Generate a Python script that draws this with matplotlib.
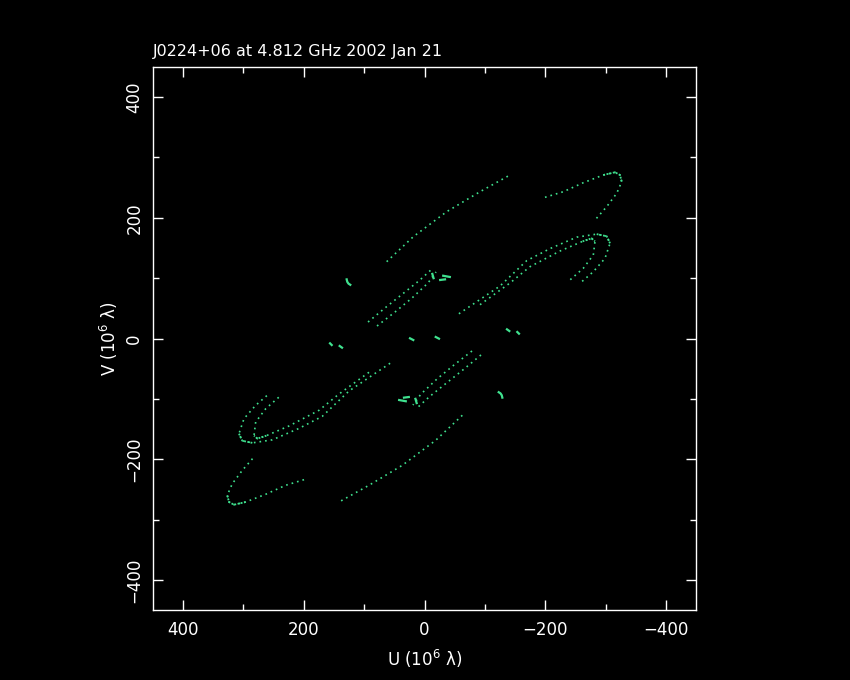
import numpy as np
import matplotlib
matplotlib.use('Agg')
import matplotlib.pyplot as plt
from matplotlib.ticker import MultipleLocator

# uv tracks (upper half); the conjugate (-u, -v) is drawn too
# units: 10^6 wavelengths
track_a_u = [-199.7, -230.1, -263.2, -296.4, -315.8, -324.0, -326.9, -318.6, -302.0, -282.6]
track_a_v = [234.0, 243.3, 258.2, 271.0, 275.5, 271.0, 259.9, 240.7, 218.5, 196.4]

track_b_u = [62.7, 18.6, -36.8, -92.0, -141.7]
track_b_v = [127.3, 168.7, 210.2, 243.3, 271.0]

track_c1_u = [-57.0, -125.1, -169.4, -208.0, -252.3, -285.4, -302.0, -307.5, -299.2, -279.8, -260.6]
track_c1_v = [41.0, 87.0, 129.0, 149.0, 168.0, 173.0, 169.5, 157.8, 132.9, 110.7, 94.1]

track_c2_u = [-92.0, -141.7, -174.8, -224.6, -262.0, -277.0, -282.6, -279.8, -263.2, -241.1]
track_c2_v = [56.0, 92.0, 119.0, 145.0, 161.0, 166.0, 161.0, 138.4, 116.4, 97.0]

track_d1_u = [93.6, 65.5, 32.3, 7.5, -14.1]
track_d1_v = [27.3, 50.6, 77.1, 97.0, 116.8]

track_d2_u = [78.7, 48.9, 20.7, -5.8, -19.1]
track_d2_v = [20.7, 43.9, 67.1, 92.0, 110.3]

# slow, densely sampled parts near the track tips
tip_a = slice(3, 7)
tip_c1 = slice(5, 8)
tip_c2 = slice(4, 7)

# short baselines
short_u = [[129, 128, 126, 123], [-13, -15], [-26, -34], [-31, -42], [156.6, 153.8], [140.6, 136.7], [24.0, 18.6]]
short_v = [[98, 94, 91, 89], [107, 100], [97, 98], [104, 102], [-8.0, -10.8], [-12.4, -15.2], [0.3, -2.5]]

title = 'J0224+06 at 4.812 GHz 2002 Jan 21'
ticks = [-400, -200, 0, 200, 400]

col = '#3fe28f'

fig = plt.figure(figsize=(8.5, 6.8), dpi=100, facecolor='black')
ax = fig.add_axes([153/850, 1 - 610/680, 543/850, 543/680])
ax.set_facecolor('black')

long_tracks = [(track_a_u, track_a_v), (track_b_u, track_b_v),
               (track_c1_u, track_c1_v), (track_c2_u, track_c2_v),
               (track_d1_u, track_d1_v), (track_d2_u, track_d2_v)]
for u, v in long_tracks:
    u = np.array(u); v = np.array(v)
    ax.plot(u, v, color=col, lw=1.2, ls=(0, (1, 2.4)))
    ax.plot(-u, -v, color=col, lw=1.2, ls=(0, (1, 2.4)))

# denser dots at the tips
for (u, v), sl in [((track_a_u, track_a_v), tip_a), ((track_c1_u, track_c1_v), tip_c1),
                   ((track_c2_u, track_c2_v), tip_c2)]:
    u = np.array(u)[sl]; v = np.array(v)[sl]
    ax.plot(u, v, color=col, lw=1.3, ls=(0, (1, 0.8)))
    ax.plot(-u, -v, color=col, lw=1.3, ls=(0, (1, 0.8)))

for u, v in zip(short_u, short_v):
    u = np.array(u); v = np.array(v)
    ax.plot(u, v, color=col, lw=1.6)
    ax.plot(-u, -v, color=col, lw=1.6)

ax.set_xlim(450, -450)
ax.set_ylim(-450, 450)
ax.set_xticks(ticks)
ax.set_yticks(ticks)
ax.xaxis.set_minor_locator(MultipleLocator(100))
ax.yaxis.set_minor_locator(MultipleLocator(100))

for s in ax.spines.values():
    s.set_color('white')
    s.set_linewidth(1)

ax.tick_params(which='both', direction='in', colors='white', top=True, right=True)
ax.tick_params(which='major', length=7, width=1, labelsize=12)
ax.tick_params(which='minor', length=4, width=1)
ax.tick_params(axis='x', pad=8)
ax.tick_params(axis='y', pad=7)
for lab in ax.get_yticklabels():
    lab.set_rotation(90)
    lab.set_va('center')

ax.set_xlabel('U (10$^6$ λ)', color='white', fontsize=12, labelpad=6)
ax.set_ylabel('V (10$^6$ λ)', color='white', fontsize=12, labelpad=4)
ax.set_title(title, color='white', fontsize=11.5, loc='left', pad=8)

fig.savefig('out.png', dpi=100, facecolor='black')
